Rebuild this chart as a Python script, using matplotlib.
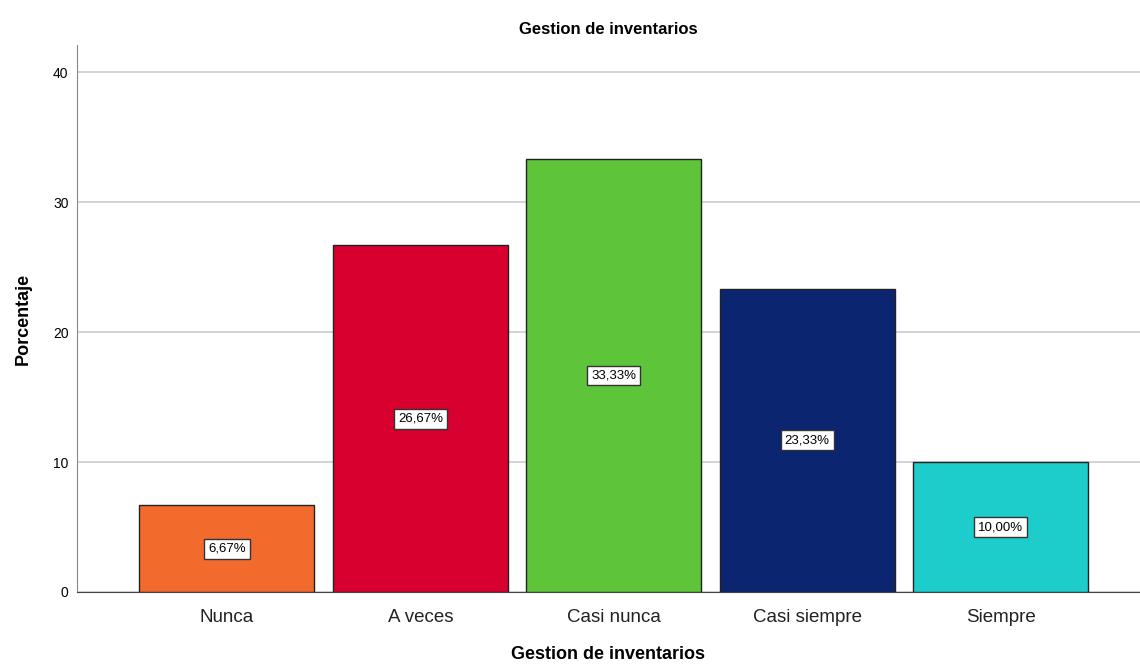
import numpy as np
import matplotlib.pyplot as plt

plt.rcParams['font.family'] = ['Liberation Sans', 'DejaVu Sans']

categorias = ['Nunca', 'A veces', 'Casi nunca', 'Casi siempre', 'Siempre']
porcentajes = [6.67, 26.67, 33.33, 23.33, 10.00]
colores = ['#f26a2c', '#d7002e', '#5ec43a', '#0b2570', '#1ccdcc']

fig = plt.figure(figsize=(11.4, 6.68), dpi=100)
ax = fig.add_axes([0.0675, 0.1138, 0.9325, 0.8188])

x = np.arange(len(categorias))
bars = ax.bar(x, porcentajes, width=0.904, color=colores, edgecolor='#222222', linewidth=1.0, zorder=3)

for xi, v in zip(x, porcentajes):
    ax.text(xi, v / 2, f'{v:.2f}%'.replace('.', ','), ha='center', va='center', fontsize=9.5,
            bbox=dict(boxstyle='square,pad=0.3', fc='white', ec='#333333', lw=1.0), zorder=4)

ax.set_xlim(-0.775, 4.72)
ax.set_ylim(0, 42.1)
ax.set_yticks([0, 10, 20, 30, 40])
ax.set_xticks(x)
ax.set_xticklabels(categorias, fontsize=13.5, color='#222222')
ax.tick_params(axis='y', labelsize=10, length=0, pad=6)
ax.tick_params(axis='x', length=0, pad=12)
ax.yaxis.grid(True, color='#cccccc', linewidth=1.2, zorder=0)

for s in ['top', 'right']:
    ax.spines[s].set_visible(False)
ax.spines['left'].set_color('#888888')
ax.spines['bottom'].set_color('#444444')

ax.set_title('Gestion de inventarios', fontsize=12, fontweight='bold', pad=8)
ax.set_xlabel('Gestion de inventarios', fontsize=13, fontweight='bold', labelpad=15)
ax.set_ylabel('Porcentaje', fontsize=13, fontweight='bold', labelpad=15)

plt.savefig('out.png', dpi=100)
